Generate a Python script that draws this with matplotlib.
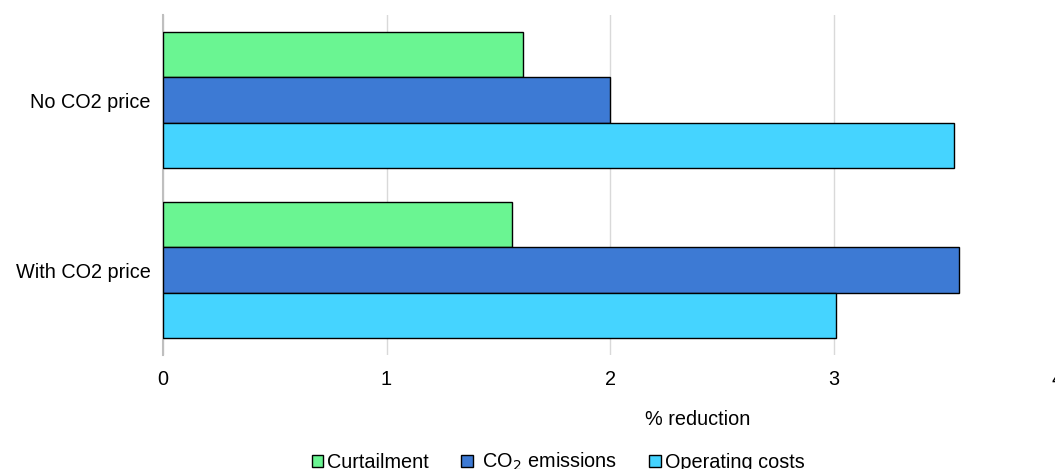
import matplotlib
matplotlib.use("Agg")
import matplotlib.pyplot as plt
import numpy as np
from matplotlib.patches import Patch

plt.rcParams['font.family'] = ['Liberation Sans', 'DejaVu Sans']

categories = ["No CO2 price", "With CO2 price"]
series_names = ["Curtailment", " CO$_2$ emissions", "Operating costs"]
curtailment = [1.61, 1.56]
co2_emissions = [2.00, 3.56]
operating_costs = [3.54, 3.01]
x_ticks = [0, 1, 2, 3, 4]

colors = ["#6AF592", "#3D7AD4", "#45D4FF"]
fs = 14.3

fig = plt.figure(figsize=(10.55, 4.69), dpi=100)
ax = fig.add_axes([163/1055, 1-355/469, (1057-163)/1055, 340/469])

y = np.arange(len(categories))
h = 0.267
for i, vals in enumerate([curtailment, co2_emissions, operating_costs]):
    ax.barh(y + (i-1)*h, vals, height=h, color=colors[i], edgecolor="black",
            linewidth=1, zorder=3)

ax.set_xlim(0, 4)
ax.set_ylim(1.5, -0.5)
ax.set_yticks(y)
ax.set_yticklabels(categories, fontsize=fs)
ax.set_xticks(x_ticks)
ax.set_xticklabels([str(t) for t in x_ticks], fontsize=fs)
ax.tick_params(axis='both', length=0)
ax.tick_params(axis='x', pad=11)
ax.tick_params(axis='y', pad=9)
ax.grid(axis='x', color="#D9D9D9", linewidth=1, zorder=0)
for s in ["top", "right", "bottom"]:
    ax.spines[s].set_visible(False)
ax.spines["left"].set_color("#BFBFBF")
ax.spines["left"].set_linewidth(1.5)

fig.text(698/1055, 1-419/469, "% reduction", fontsize=fs, ha="center", va="center")

handles = [Patch(facecolor=c, edgecolor="black", linewidth=1) for c in colors]
fig.legend(handles, series_names, loc="center", bbox_to_anchor=(558/1055, 1-462/469),
           ncol=3, frameon=False, fontsize=fs, handlelength=0.6, handleheight=0.6,
           handletextpad=0.2, columnspacing=1.6)

fig.savefig("out.png", dpi=100)
